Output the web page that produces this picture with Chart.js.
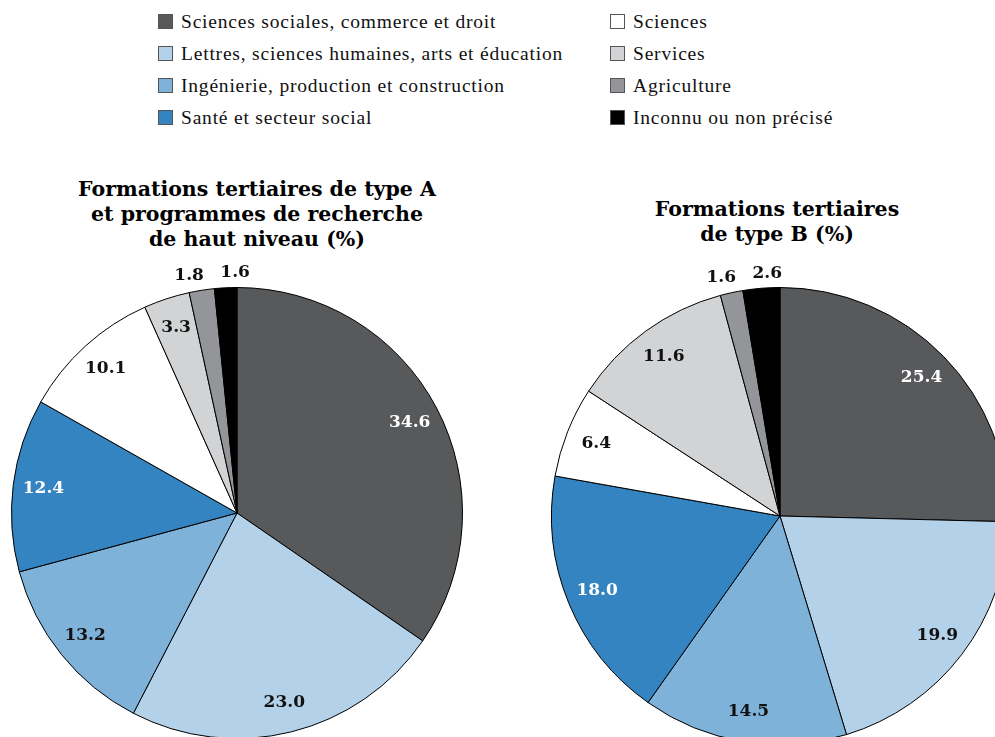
<!DOCTYPE html>
<html>
<head>
<meta charset="utf-8">
<script src="https://cdn.jsdelivr.net/npm/chart.js@4.4.0/dist/chart.umd.min.js"></script>
<style>
  html, body { margin: 0; padding: 0; background: #fff; overflow: hidden; }
  #page { position: relative; width: 995px; height: 737px; overflow: hidden; }
  canvas { position: absolute; }
  .legend { position: absolute; top: 9px; font-family: "Liberation Serif", serif; font-size: 19.5px; letter-spacing: 0.8px; color: #111; }
  .legend div { height: 32px; line-height: 26px; white-space: nowrap; }
  .legend span.box { display: inline-block; width: 15px; height: 15px; border: 1px solid #555; box-sizing: border-box; vertical-align: -1px; margin-right: 8px; }
  .title { position: absolute; font-family: "DejaVu Serif", serif; font-weight: bold; font-size: 20.5px; line-height: 25px; text-align: center; color: #000; }
</style>
</head>
<body>
<div id="page">
  <div class="legend" id="leg1" style="left:158px"></div>
  <div class="legend" id="leg2" style="left:610px"></div>
  <div class="title" style="left:57px;width:400px;top:177px">Formations tertiaires de type A<br>et programmes de recherche<br>de haut niveau (%)</div>
  <div class="title" style="left:577px;width:400px;top:197px">Formations tertiaires<br>de type B (%)</div>
  <canvas id="pieA" width="490" height="510" style="left:0;top:250px"></canvas>
  <canvas id="pieB" width="490" height="510" style="left:540px;top:250px"></canvas>
</div>
<script>
const categories = [
  'Sciences sociales, commerce et droit',
  'Lettres, sciences humaines, arts et éducation',
  'Ingénierie, production et construction',
  'Santé et secteur social',
  'Sciences',
  'Services',
  'Agriculture',
  'Inconnu ou non précisé'
];
const typeA = [34.6, 23.0, 13.2, 12.4, 10.1, 3.3, 1.8, 1.6];
const typeB = [25.4, 19.9, 14.5, 18.0, 6.4, 11.6, 1.6, 2.6];
const colors = ['#58595b', '#b3d1e9', '#7fb2d8', '#3384c1', '#ffffff', '#d1d3d4', '#939598', '#000000'];
const labelColors = ['#fff', '#111', '#111', '#fff', '#111', '#111', '#111', '#111'];

// legend in two columns
['leg1', 'leg2'].forEach((id, col) => {
  const el = document.getElementById(id);
  categories.slice(col * 4, col * 4 + 4).forEach((name, i) => {
    const row = document.createElement('div');
    row.innerHTML = `<span class="box" style="background:${colors[col * 4 + i]}"></span>${name}`;
    el.appendChild(row);
  });
});

// value labels: inside for bigger slices, outside for small ones
const sliceLabels = {
  id: 'sliceLabels',
  afterDraw(chart) {
    const ctx = chart.ctx;
    const meta = chart.getDatasetMeta(0);
    const values = chart.data.datasets[0].data;
    const pts = meta.data.map((arc, i) => {
      const mid = (arc.startAngle + arc.endAngle) / 2;
      const outside = values[i] < 3;
      const r = outside ? arc.outerRadius + 15 : arc.outerRadius * 0.865;
      return { i, outside, x: arc.x + Math.cos(mid) * r, y: arc.y + Math.sin(mid) * r };
    });
    // spread neighbouring outside labels so they don't collide
    const out = pts.filter(p => p.outside);
    for (let k = 1; k < out.length; k++) {
      const a = out[k - 1], b = out[k];
      const gap = Math.abs(a.x - b.x);
      if (gap < 46) {
        const m = (a.x + b.x) / 2, s = a.x < b.x ? 1 : -1;
        a.x = m - s * 23; b.x = m + s * 23;
      }
    }
    ctx.save();
    ctx.font = 'bold 17px "DejaVu Serif", serif';
    ctx.textAlign = 'center';
    ctx.textBaseline = 'middle';
    pts.forEach(p => {
      ctx.fillStyle = p.outside ? '#111' : labelColors[p.i];
      ctx.fillText(values[p.i].toFixed(1), p.x, p.y);
    });
    ctx.restore();
  }
};

function makePie(id, data, padding) {
  new Chart(document.getElementById(id).getContext('2d'), {
    type: 'pie',
    data: {
      labels: categories,
      datasets: [{
        data,
        backgroundColor: colors,
        borderColor: '#000',
        borderWidth: 1,
        hoverOffset: 0
      }]
    },
    options: {
      responsive: false,
      animation: false,
      layout: { padding },
      plugins: { legend: { display: false }, tooltip: { enabled: false } }
    },
    plugins: [sliceLabels]
  });
}

makePie('pieA', typeA, { left: 11, top: 37, right: 27, bottom: 21 });
makePie('pieB', typeB, { left: 11, top: 37, right: 21, bottom: 15 });
</script>
</body>
</html>
